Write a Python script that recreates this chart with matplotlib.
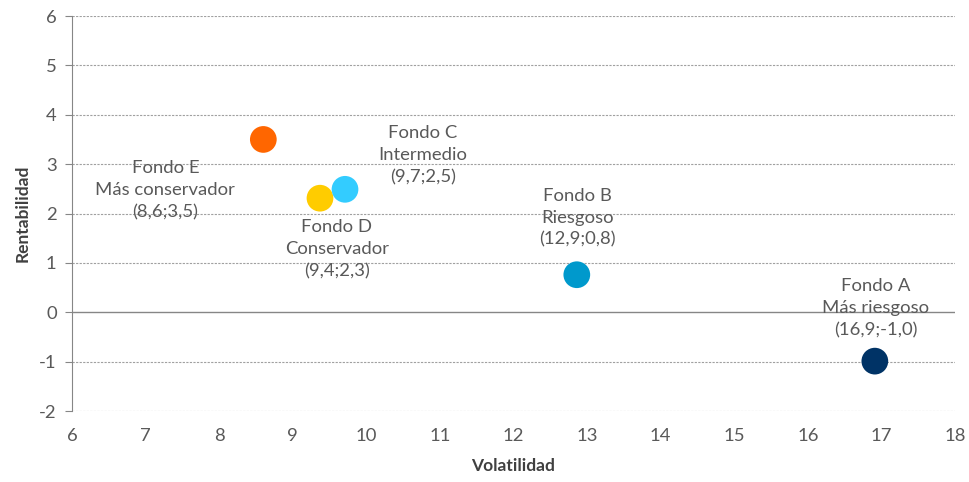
import matplotlib.pyplot as plt

# datos
fondos = ['E', 'D', 'C', 'B', 'A']
volatilidad = [8.6, 9.37, 9.71, 12.86, 16.91]
rentabilidad = [3.5, 2.31, 2.49, 0.76, -0.99]
etiquetas = ['Fondo E\nMás conservador\n(8,6;3,5)',
             'Fondo D\nConservador\n(9,4;2,3)',
             'Fondo C\nIntermedio\n(9,7;2,5)',
             'Fondo B\nRiesgoso\n(12,9;0,8)',
             'Fondo A\nMás riesgoso\n(16,9;-1,0)']
colores = ['#FF6600', '#FFCC00', '#33CCFF', '#0099CC', '#003366']
offsets = [(-98, -51), (17, -51), (78, 34), (1, 57), (1, 53)]

gris = '#595959'
plt.rcParams['font.family'] = ['Lato', 'DejaVu Sans']
plt.rcParams['axes.unicode_minus'] = False

fig = plt.figure(figsize=(9.69, 4.82), dpi=100)
ax = fig.add_axes([0.0743, 0.1473, 0.9113, 0.8195])

for y in range(-2, 7):
    if y == 0:
        continue
    ax.axhline(y, color='#a0a0a0', lw=0.8, ls=(0, (2, 1.2)), zorder=0)
ax.axhline(0, color='#868686', lw=1.0, zorder=1)

ax.scatter(volatilidad, rentabilidad, s=370, c=colores, zorder=3, linewidths=0)

for x, y, t, (dx, dy) in zip(volatilidad, rentabilidad, etiquetas, offsets):
    ax.annotate(t, (x, y), xytext=(dx, dy), textcoords='offset pixels',
                ha='center', va='center', fontsize=13.3, color=gris,
                linespacing=1.45)

ax.set_xlim(6, 18)
ax.set_ylim(-2, 6)
ax.set_xticks(range(6, 19))
ax.set_yticks(range(-2, 7))

for s in ['top', 'right', 'bottom']:
    ax.spines[s].set_visible(False)
ax.spines['left'].set_color('#868686')
ax.tick_params(axis='x', length=0, pad=12, labelsize=13.3, labelcolor=gris)
ax.tick_params(axis='y', length=5, color='#868686', pad=6, labelsize=13.3, labelcolor=gris)

ax.set_xlabel('Volatilidad', fontsize=12.5, fontweight='bold', color='#404040', labelpad=10)
ax.set_ylabel('Rentabilidad', fontsize=12.5, fontweight='bold', color='#404040', labelpad=6)

fig.savefig('out.png', dpi=100)
